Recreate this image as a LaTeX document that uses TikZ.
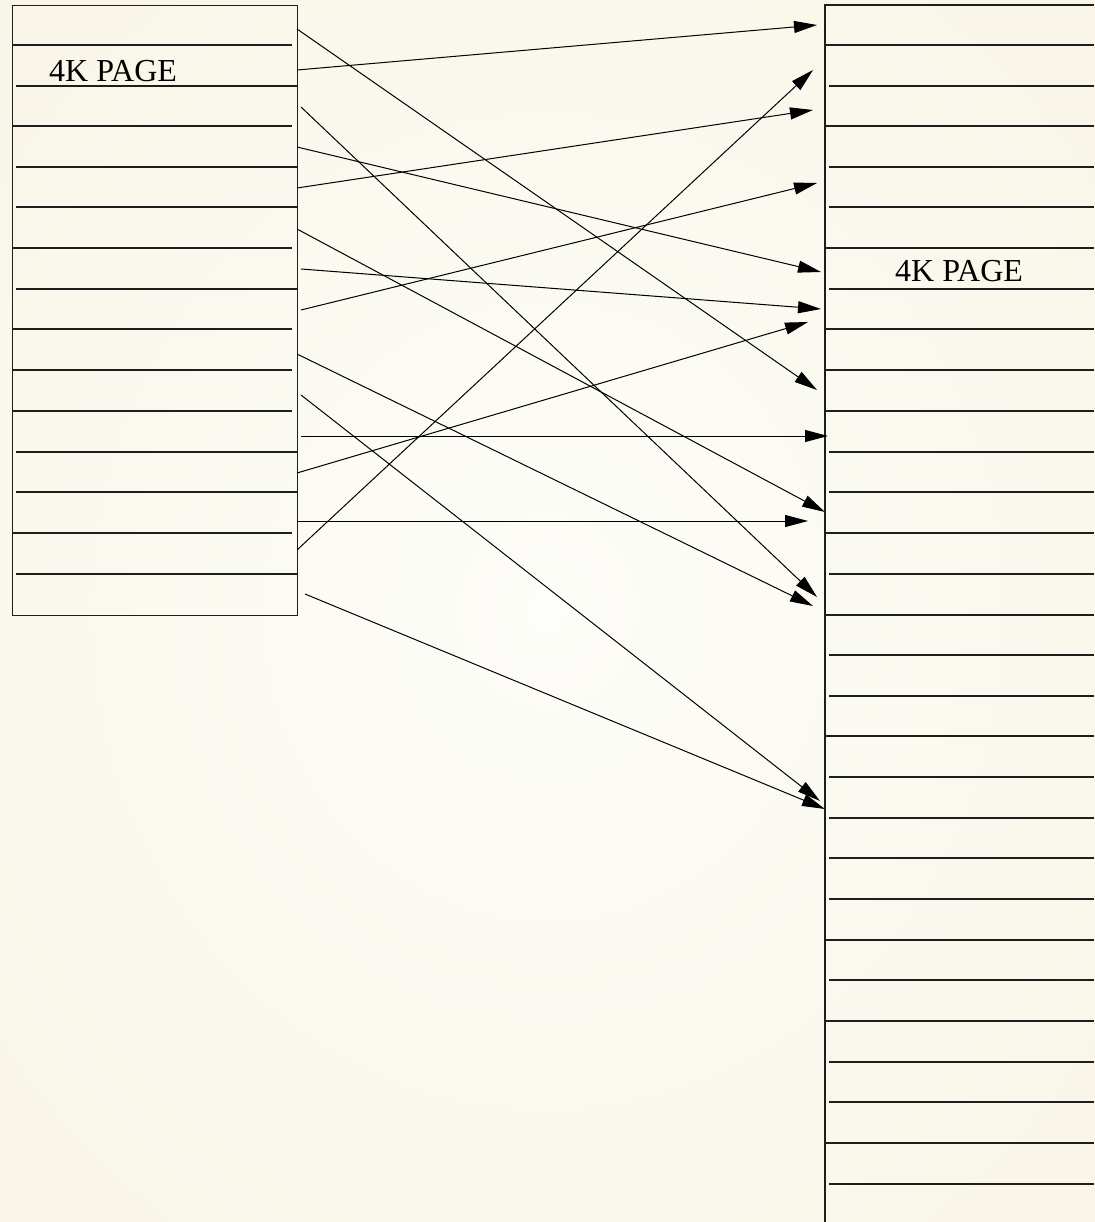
\documentclass[tikz,border=0pt]{standalone}
\usepackage{fontspec}
\setmainfont{Liberation Serif}
\usetikzlibrary{arrows.meta}
\definecolor{bgout}{RGB}{249,246,233}
\definecolor{bgin}{RGB}{253,253,249}
\definecolor{rulec}{RGB}{30,30,30}
\begin{document}
\begin{tikzpicture}[x=1pt,y=-1pt,
  boxline/.style={draw=rulec,line width=1.1pt},
  rowline/.style={draw=rulec,line width=1.2pt},
  arr/.style={draw=black,line width=1pt,-{Triangle[length=23pt,width=12pt]}},
  pagelabel/.style={anchor=base west,inner sep=0pt,font=\fontsize{32}{38}\selectfont,text=black}]
\useasboundingbox (0,0) rectangle (1094,1222);
\shade[inner color=bgin,outer color=bgout] (-150,-150) rectangle (1244,1372);
% left box
\node[boxline,anchor=north west,minimum width=285pt,minimum height=610pt,inner sep=0pt] (lbox) at (12,5) {};
\foreach \y/\a/\b in {45/12/292,86/16/297,126/12/292,167/16/297,207/16/297,248/12/292,289/16/297,329/12/292,370/12/292,411/12/292,452/16/297,492/16/297,533/12/292,574/16/297}
  \draw[rowline] (\a,\y) -- (\b,\y);
% right box (runs past the page)
\draw[boxline] (1094,5) -- (825,5) -- (825,1222);
\foreach \y/\a in {45/825,86/829,126/825,167/829,207/829,248/825,289/829,329/825,370/825,411/825,452/829,492/829,533/825,574/829,655/829,696/829,736/825,777/829,818/829,858/829,899/829,940/825,980/829,1021/825,1062/829,1102/829,1143/825,1184/829}
  \draw[rowline] (\a,\y) -- (1094,\y);
\draw[rowline,line width=1.4pt] (825,615) -- (1094,615);
% labels
\node[pagelabel] (lpage) at (49,82) {4K PAGE};
\node[pagelabel] (rpage) at (895,282) {4K PAGE};
% arrow ends
\coordinate (sA) at (297,29);  \coordinate (eA) at (817,390);
\coordinate (sB) at (297,70);  \coordinate (eB) at (817,25);
\coordinate (sC) at (301,107); \coordinate (eC) at (817,597);
\coordinate (sD) at (297,147); \coordinate (eD) at (821,272);
\coordinate (sE) at (297,188); \coordinate (eE) at (813,110);
\coordinate (sF) at (297,229); \coordinate (eF) at (825,512);
\coordinate (sG) at (301,269); \coordinate (eG) at (821,309);
\coordinate (sH) at (301,310); \coordinate (eH) at (817,183);
\coordinate (sI) at (297,354); \coordinate (eI) at (813,606);
\coordinate (sJ) at (301,395); \coordinate (eJ) at (820,801);
\coordinate (sK) at (301,436); \coordinate (eK) at (828,436);
\coordinate (sL) at (297,473); \coordinate (eL) at (808,322);
\coordinate (sM) at (297,521); \coordinate (eM) at (808,521);
\coordinate (sN) at (297,550); \coordinate (eN) at (813,70);
\coordinate (sO) at (305,594); \coordinate (eO) at (825,809);
\foreach \k in {A,B,C,D,E,F,G,H,I,J,K,L,M,N,O}
  \draw[arr] (s\k) -- (e\k);
\end{tikzpicture}
\end{document}
